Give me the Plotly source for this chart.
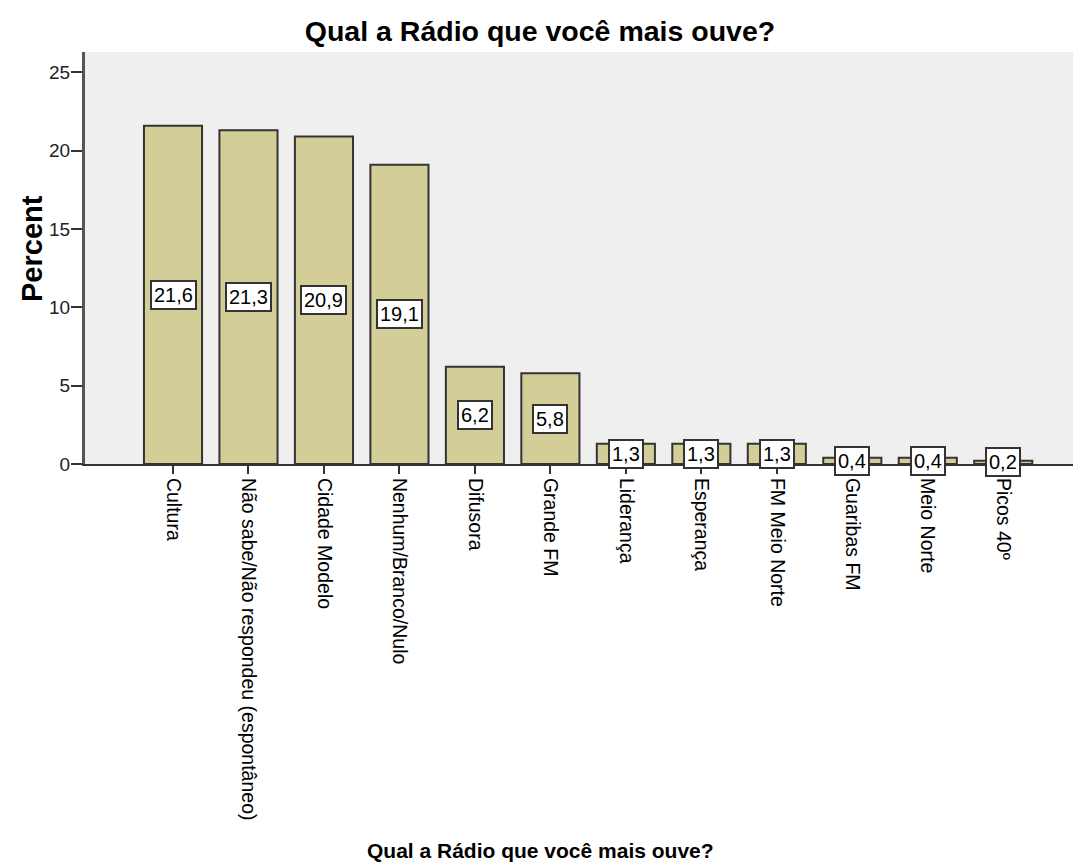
import plotly.graph_objects as go

categories = ["Cultura", "Não sabe/Não respondeu (espontâneo)", "Cidade Modelo",
              "Nenhum/Branco/Nulo", "Difusora", "Grande FM", "Liderança",
              "Esperança", "FM Meio Norte", "Guaribas FM", "Meio Norte", "Picos 40º"]
percent = [21.6, 21.3, 20.9, 19.1, 6.2, 5.8, 1.3, 1.3, 1.3, 0.4, 0.4, 0.2]
value_labels = ["21,6", "21,3", "20,9", "19,1", "6,2", "5,8", "1,3", "1,3", "1,3", "0,4", "0,4", "0,2"]
y_ticks = [0, 5, 10, 15, 20, 25]

title_text = "Qual a Rádio que você mais ouve?"
y_title = "Percent"
font_family = "Liberation Sans, Arial, sans-serif"

x_idx = list(range(len(categories)))

# page body has an 8px margin, so the figure is sized/offset accordingly
W, H = 1073, 856
ML, MT, MB = 77, 44, 400

fig = go.Figure()
fig.add_trace(go.Bar(
    x=x_idx, y=percent, width=0.77,
    marker=dict(color="#D3CE97", line=dict(color="#333333", width=2)),
    hoverinfo="skip",
))

for i, (v, lab) in enumerate(zip(percent, value_labels)):
    fig.add_annotation(
        x=i, y=v / 2, text=lab, showarrow=False,
        font=dict(family=font_family, size=20, color="black"),
        bgcolor="white", bordercolor="#333333", borderwidth=2, borderpad=2,
        xanchor="center", yanchor="middle",
    )

plot_w = W - ML
plot_h = H - MT - MB

# x-axis title
fig.add_annotation(
    x=(532 - ML) / plot_w, y=(H - MB - 842) / plot_h, xref="paper", yref="paper",
    text="<b>" + title_text + "</b>", showarrow=False,
    font=dict(family=font_family, size=21, color="black"),
    xanchor="center", yanchor="middle",
)
# y-axis title
fig.add_annotation(
    x=(24 - ML) / plot_w, y=(H - MB - 241) / plot_h, xref="paper", yref="paper",
    text="<b>" + y_title + "</b>", showarrow=False, textangle=-90,
    font=dict(family=font_family, size=29, color="black"),
    xanchor="center", yanchor="middle",
)

fig.update_layout(
    width=W, height=H,
    margin=dict(l=ML, r=0, t=MT, b=MB, autoexpand=False),
    paper_bgcolor="white", plot_bgcolor="#EFEFEF",
    showlegend=False,
    font=dict(family=font_family, color="black"),
    title=dict(text="<b>" + title_text + "</b>", x=532 / W, xanchor="center",
               y=1 - 23 / H, yanchor="middle",
               font=dict(size=28.5, family=font_family)),
)

fig.update_xaxes(
    range=[-1.166, 12.03], tickmode="array", tickvals=x_idx, ticktext=categories,
    tickangle=90, ticks="outside", ticklen=8, tickcolor="#333333", tickwidth=2,
    showline=True, linecolor="#333333", linewidth=2, showgrid=False, zeroline=False,
    tickfont=dict(size=19.5, family=font_family, color="black"),
)

fig.update_yaxes(
    range=[0, 26.3], tickmode="array", tickvals=y_ticks,
    ticks="outside", ticklen=11, tickcolor="#333333", tickwidth=2,
    showline=True, linecolor="#555555", linewidth=3, mirror=True,
    showgrid=False, zeroline=False, ticklabelstandoff=-3,
    tickfont=dict(size=19, family=font_family, color="#222222"),
)

fig.write_html("out.html")
